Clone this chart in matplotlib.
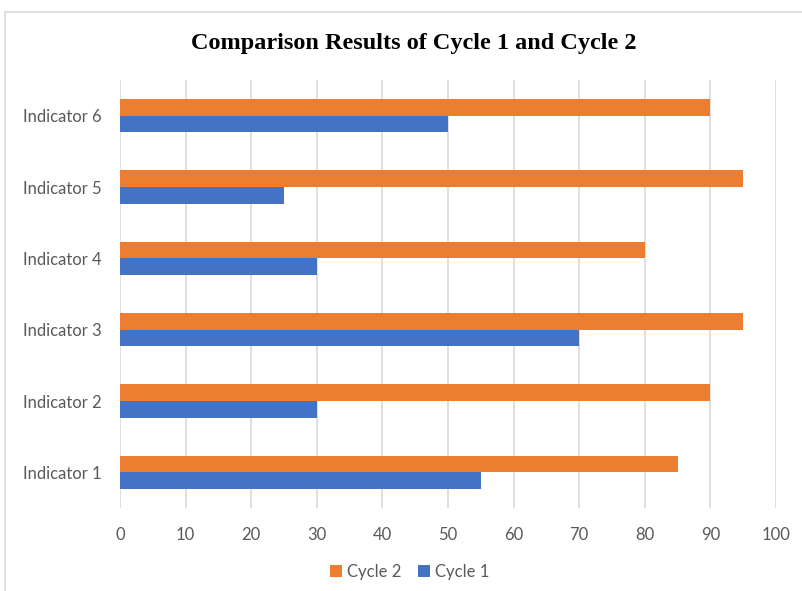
import matplotlib.pyplot as plt
import numpy as np
from matplotlib.patches import Rectangle

indicators = ['Indicator 1', 'Indicator 2', 'Indicator 3', 'Indicator 4', 'Indicator 5', 'Indicator 6']
cycle1 = [55, 30, 70, 30, 25, 50]
cycle2 = [85, 90, 95, 80, 95, 90]
xticks = [0, 10, 20, 30, 40, 50, 60, 70, 80, 90, 100]

blue = '#4472C4'
orange = '#ED7D31'
grey = '#595959'

fig = plt.figure(figsize=(8.03, 5.91), dpi=100)
ax = fig.add_axes([120 / 803, 1 - 508 / 591, 656 / 803, 428 / 591])

# chart frame round the whole figure
fig.patches.append(Rectangle((5 / 803, -0.05), 1.0, 1 - 12 / 591 + 0.05,
                             transform=fig.transFigure, fill=False,
                             edgecolor='#D9D9D9', linewidth=1.2))

y = np.arange(len(indicators))
h = 0.232
ax.barh(y + h / 2, cycle2, height=h, color=orange, label='Cycle 2', zorder=3)
ax.barh(y - h / 2, cycle1, height=h, color=blue, label='Cycle 1', zorder=3)

ax.set_xlim(0, 100)
ax.set_ylim(-0.5, len(indicators) - 0.5)
ax.set_xticks(xticks)
ax.set_yticks(y)
ax.set_yticklabels(indicators)
ax.grid(axis='x', color='#D9D9D9', linewidth=1.2, zorder=0)
ax.tick_params(length=0, labelsize=12, labelcolor=grey)
ax.tick_params(axis='y', pad=13)
ax.tick_params(axis='x', pad=14)
for lbl in ax.get_xticklabels() + ax.get_yticklabels():
    lbl.set_fontfamily('Lato')
for s in ax.spines.values():
    s.set_visible(False)

fig.text(0.515, 1 - 44 / 591, 'Comparison Results of Cycle 1 and Cycle 2',
         ha='center', va='center', fontsize=17.5, fontweight='bold',
         family='Liberation Serif')

fig.legend(loc='center', bbox_to_anchor=(0.51, 1 - 572 / 591), ncol=2,
           frameon=False, handlelength=0.7, handleheight=0.7, handletextpad=0.3,
           columnspacing=1.0, prop={'family': 'Lato', 'size': 12},
           labelcolor=grey)

fig.savefig('out.png', dpi=100)
